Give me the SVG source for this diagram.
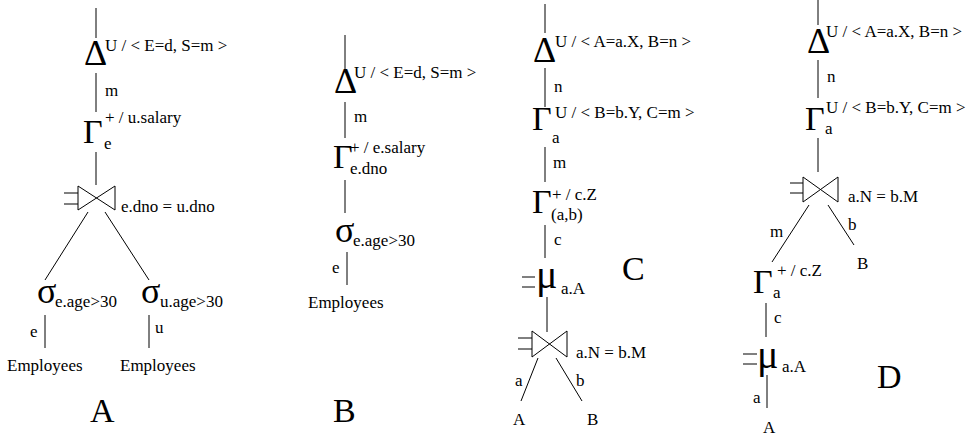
<svg xmlns="http://www.w3.org/2000/svg" width="979" height="439" viewBox="0 0 979 439" font-family="'Liberation Serif', 'DejaVu Serif', serif">
<style>
text{font-family:'Liberation Serif','Times New Roman','DejaVu Serif',serif;fill:#000;font-size:17px}
.op{font-size:36px}
.gm{font-size:34px}
.mu{font-size:40px}
.big{font-size:34px}
line,path{stroke:#000;stroke-width:1;fill:none}
</style>
<rect width="979" height="439" fill="#fff"/>
<g id="connectors">
<line x1="96" y1="8" x2="96" y2="38"/>
<line x1="96" y1="73" x2="96" y2="112"/>
<line x1="96" y1="152" x2="96" y2="185"/>
<line x1="88" y1="212" x2="45" y2="280"/>
<line x1="105" y1="212" x2="149" y2="280"/>
<line x1="45" y1="315" x2="45" y2="348"/>
<line x1="149" y1="315" x2="149" y2="348"/>
<line x1="345" y1="35" x2="345" y2="69"/>
<line x1="345" y1="102" x2="345" y2="138"/>
<line x1="345" y1="180" x2="345" y2="213"/>
<line x1="347" y1="252" x2="347" y2="285"/>
<line x1="545" y1="4" x2="545" y2="33"/>
<line x1="545" y1="68" x2="545" y2="107"/>
<line x1="545" y1="147" x2="545" y2="182"/>
<line x1="545" y1="225" x2="545" y2="258"/>
<line x1="547" y1="297" x2="547" y2="332"/>
<line x1="538" y1="358" x2="521" y2="401"/>
<line x1="556" y1="358" x2="582" y2="401"/>
<line x1="818" y1="0" x2="818" y2="25"/>
<line x1="818" y1="60" x2="818" y2="98"/>
<line x1="818" y1="138" x2="818" y2="172"/>
<line x1="809" y1="205" x2="772" y2="262"/>
<line x1="828" y1="205" x2="854" y2="245"/>
<line x1="766" y1="303" x2="766" y2="337"/>
<line x1="767" y1="375" x2="767" y2="408"/>
<text x="105" y="96">m</text>
<text x="30" y="337">e</text>
<text x="155" y="333">u</text>
<text x="354" y="122">m</text>
<text x="332" y="273">e</text>
<text x="554" y="92">n</text>
<text x="553" y="168">m</text>
<text x="554" y="245">c</text>
<text x="515" y="386">a</text>
<text x="576" y="386">b</text>
<text x="827" y="82">n</text>
<text x="770" y="237">m</text>
<text x="848" y="230">b</text>
<text x="774" y="323">c</text>
<text x="753" y="403">a</text>
</g>
<g id="A-delta"><text class="op" x="84" y="65">Δ</text><text x="105" y="51">U / &lt; E=d, S=m &gt;</text></g>
<g id="A-gamma"><text class="gm" x="83" y="143">Γ</text><text x="105" y="123">+ / u.salary</text><text x="104" y="149">e</text></g>
<g id="A-join"><path d="M78,186 L115,210 L115,186 L78,210 Z"/><line x1="64" y1="193" x2="78" y2="193"/><line x1="64" y1="204" x2="78" y2="204"/><text x="121" y="212">e.dno = u.dno</text></g>
<g id="A-sigma-e"><text class="op" x="37" y="303">σ</text><text x="55" y="307">e.age&gt;30</text></g>
<g id="A-sigma-u"><text class="op" x="141" y="303">σ</text><text x="160" y="307">u.age&gt;30</text></g>
<g id="A-emp1"><text x="7" y="371">Employees</text></g>
<g id="A-emp2"><text x="120" y="371">Employees</text></g>
<g id="A-label"><text class="big" x="90" y="422">A</text></g>
<g id="B-delta"><text class="op" x="334" y="93">Δ</text><text x="354" y="78">U / &lt; E=d, S=m &gt;</text></g>
<g id="B-gamma"><text class="gm" x="333" y="168">Γ</text><text x="350" y="153">+ / e.salary</text><text x="350" y="174">e.dno</text></g>
<g id="B-sigma"><text class="op" x="335" y="242">σ</text><text x="353" y="246">e.age&gt;30</text></g>
<g id="B-emp"><text x="308" y="308">Employees</text></g>
<g id="B-label"><text class="big" x="333" y="422">B</text></g>
<g id="C-delta"><text class="op" x="533" y="62">Δ</text><text x="555" y="47">U / &lt; A=a.X, B=n &gt;</text></g>
<g id="C-gamma1"><text class="gm" x="532" y="130">Γ</text><text x="555" y="118">U / &lt; B=b.Y, C=m &gt;</text><text x="552" y="143">a</text></g>
<g id="C-gamma2"><text class="gm" x="532" y="213">Γ</text><text x="552" y="200">+ / c.Z</text><text x="551" y="220">(a,b)</text></g>
<g id="C-mu"><line x1="522" y1="277" x2="535" y2="277"/><line x1="522" y1="287" x2="535" y2="287"/><text class="mu" x="536" y="288">μ</text><text x="561" y="294">a.A</text></g>
<g id="C-join"><path d="M532,331 L567,357 L567,331 L532,357 Z"/><line x1="518" y1="338" x2="532" y2="338"/><line x1="518" y1="349" x2="532" y2="349"/><text x="576" y="358">a.N = b.M</text></g>
<g id="C-A"><text x="513" y="425">A</text></g>
<g id="C-B"><text x="587" y="425">B</text></g>
<g id="C-label"><text class="big" x="622" y="280">C</text></g>
<g id="D-delta"><text class="op" x="807" y="53">Δ</text><text x="826" y="37">U / &lt; A=a.X, B=n &gt;</text></g>
<g id="D-gamma1"><text class="gm" x="805" y="130">Γ</text><text x="826" y="113">U / &lt; B=b.Y, C=m &gt;</text><text x="825" y="134">a</text></g>
<g id="D-join"><path d="M803,177 L838,202 L838,177 L803,202 Z"/><line x1="790" y1="183" x2="803" y2="183"/><line x1="790" y1="193" x2="803" y2="193"/><text x="848" y="202">a.N = b.M</text></g>
<g id="D-B"><text x="857" y="269">B</text></g>
<g id="D-gamma2"><text class="gm" x="753" y="293">Γ</text><text x="777" y="276">+ / c.Z</text><text x="773" y="298">a</text></g>
<g id="D-mu"><line x1="743" y1="354" x2="757" y2="354"/><line x1="743" y1="364" x2="757" y2="364"/><text class="mu" x="757" y="368">μ</text><text x="782" y="372">a.A</text></g>
<g id="D-A"><text x="763" y="433">A</text></g>
<g id="D-label"><text class="big" x="877" y="388">D</text></g>
</svg>
